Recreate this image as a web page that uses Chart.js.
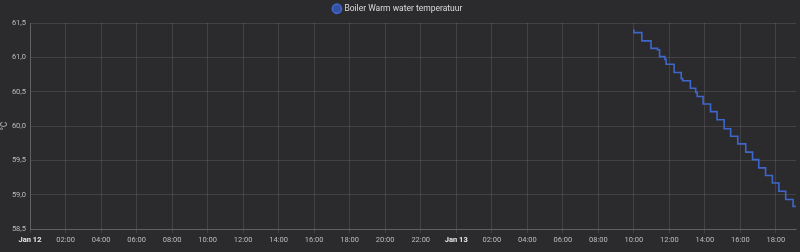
<!DOCTYPE html>
<html>
<head>
<meta charset="utf-8">
<script src="https://cdn.jsdelivr.net/npm/chart.js@4.4.1/dist/chart.umd.min.js"></script>
<style>
  html, body { margin: 0; padding: 0; background: #2b2b2d; }
  #wrap { width: 800px; height: 252px; position: relative; }
</style>
</head>
<body>
<div id="wrap"><canvas id="tempChart"></canvas></div>
<script>
// Boiler temperature samples (all on Jan 13)
const stepTimes = ['09:59', '10:00', '10:27', '10:58', '11:20', '11:27', '11:45', '11:49', '12:16', '12:40',
    '12:45', '13:11', '13:29', '13:34', '13:54', '14:19', '14:41', '15:05', '15:27', '15:51',
    '16:18', '16:41', '17:02', '17:25', '17:48', '18:10', '18:33', '18:58', '19:07'];
const stepValues = [61.40, 61.36, 61.24, 61.13, 61.11, 61.01, 60.97, 60.90, 60.78, 60.69,
    60.66, 60.55, 60.49, 60.43, 60.32, 60.21, 60.09, 59.96, 59.85, 59.74,
    59.62, 59.51, 59.39, 59.28, 59.17, 59.05, 58.93, 58.83, 58.83];

const seriesLabel = 'Boiler Warm water temperatuur';
const dayLabels = ['Jan 12', 'Jan 13'];
const tickHours = [0, 2, 4, 6, 8, 10, 12, 14, 16, 18, 20, 22, 24, 26, 28, 30, 32, 34, 36, 38, 40, 42];
const yTicks = [58.5, 59.0, 59.5, 60.0, 60.5, 61.0, 61.5];
const xEndHour = 43.13; // "now" on the right edge

// hours counted from Jan 12 00:00
const toHours = t => { const [h, m] = t.split(':').map(Number); return 24 + h + m / 60; };
const points = stepTimes.map((t, i) => ({ x: toHours(t), y: stepValues[i] }));

const fontFam = "Roboto, 'Liberation Sans', sans-serif";
const fmtHour = v => {
    if (v % 24 === 0) return dayLabels[v / 24];
    const h = v % 24;
    return (h < 10 ? '0' : '') + h + ':00';
};

const ctx = document.getElementById('tempChart').getContext('2d');
new Chart(ctx, {
    type: 'line',
    data: {
        datasets: [{
            label: seriesLabel,
            data: points,
            stepped: true,
            borderColor: '#3f66cc',
            backgroundColor: '#34529f',
            borderWidth: 1.6,
            pointRadius: 0,
            fill: false
        }]
    },
    options: {
        responsive: true,
        maintainAspectRatio: false,
        animation: false,
        layout: { padding: { right: 4, top: 0, left: 0, bottom: 0 } },
        plugins: {
            legend: {
                display: true,
                labels: {
                    usePointStyle: true,
                    pointStyle: 'circle',
                    boxWidth: 6.5,
                    boxHeight: 6.5,
                    padding: 4.5,
                    color: '#dcdcdc',
                    font: { family: fontFam, size: 8.5 }
                }
            },
            tooltip: { enabled: false }
        },
        scales: {
            x: {
                type: 'linear',
                min: 0,
                max: xEndHour,
                afterBuildTicks: s => { s.ticks = tickHours.map(v => ({ value: v })); },
                afterFit: s => { s.height = 23; },
                ticks: {
                    autoSkip: false,
                    maxRotation: 0,
                    color: ctx => (ctx.tick && ctx.tick.value % 24 === 0) ? '#e8e8e8' : '#bdbdbd',
                    font: ctx => ({ family: fontFam, size: 7.5, weight: (ctx.tick && ctx.tick.value % 24 === 0) ? 'bold' : 'normal' }),
                    padding: 3,
                    callback: v => fmtHour(v)
                },
                grid: { color: 'rgba(255,255,255,0.11)', tickLength: 4 },
                border: { color: 'rgba(255,255,255,0.17)' }
            },
            y: {
                min: 58.5,
                max: 61.5,
                afterBuildTicks: s => { s.ticks = yTicks.map(v => ({ value: v })); },
                afterFit: s => { s.width = 30; },
                title: {
                    display: true,
                    text: '°C',
                    color: '#bdbdbd',
                    font: { family: fontFam, size: 8.5 },
                    padding: 0
                },
                ticks: {
                    color: '#bdbdbd',
                    font: { family: fontFam, size: 7.5 },
                    padding: 4,
                    callback: v => v.toFixed(1).replace('.', ',')
                },
                grid: { color: 'rgba(255,255,255,0.11)', tickLength: 0 },
                border: { color: 'rgba(255,255,255,0.17)' }
            }
        }
    }
});
</script>
</body>
</html>
